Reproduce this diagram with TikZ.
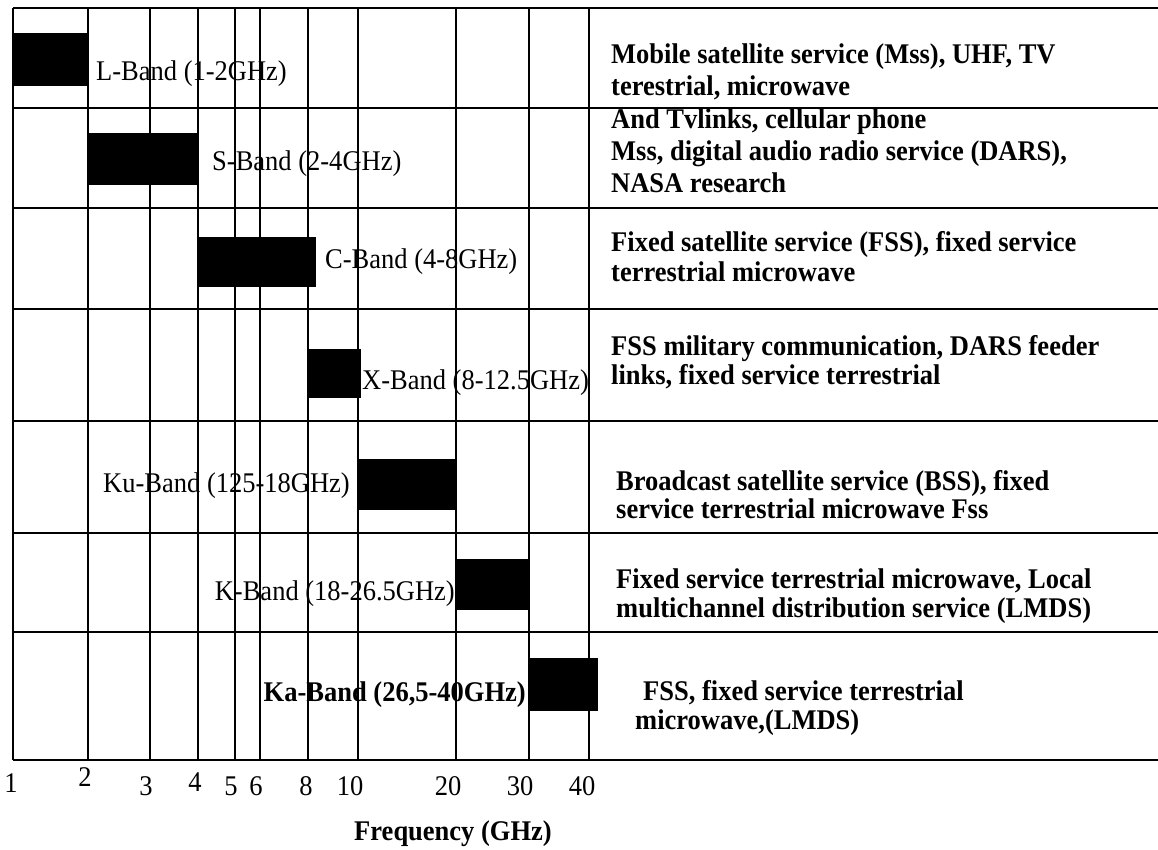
\documentclass[tikz,border=0pt]{standalone}
\usepackage{fontspec}
\setmainfont{Liberation Serif}[FakeStretch = 0.93]
\usepackage{xcolor}
\usepackage{tikz}

\tikzset{
  gridline/.style = {line width = 1.8pt},
  bandlabel/.style = {font = \fontsize{28.5}{32}\selectfont, inner sep = 0pt},
  service/.style = {font = \fontsize{28.5}{32}\selectfont\bfseries, anchor = base west, inner sep = 0pt},
  ticklabel/.style = {font = \fontsize{28.5}{32}\selectfont, anchor = base, inner sep = 0pt}
}

\begin{document}
\begin{tikzpicture}[x = 1pt, y = -1pt]
    \useasboundingbox (0, 0) rectangle (1158, 849);
    % grid
    \foreach \y in {8, 108, 208, 309, 421, 533, 632, 760}
      \draw[gridline] (13, \y) -- (1158, \y);
    \foreach \x in {13, 88, 150, 198, 235, 260, 308, 358, 456, 529, 589}
      \draw[gridline] (\x, 8) -- (\x, 760);

    % bands
    {
      \filldraw[fill = black] (13, 33) rectangle (88, 85);
      \node[bandlabel, anchor = base west] (Llabel) at (96, 80) {L-Band (1-2GHz)};
    }
    {
      \filldraw[fill = black] (88, 133) rectangle (198, 184);
      \node[bandlabel, anchor = base west] (Slabel) at (212, 170) {S-Band (2-4GHz)};
    }
    {
      \filldraw[fill = black] (198, 237) rectangle (315, 286);
      \node[bandlabel, anchor = base west] (Clabel) at (325, 268) {C-Band (4-8GHz)};
    }
    {
      \filldraw[fill = black] (308, 349) rectangle (360, 397);
      \node[bandlabel, anchor = base west] (Xlabel) at (362, 389) {X-Band (8-12.5GHz)};
    }
    {
      \filldraw[fill = black] (358, 459) rectangle (456, 509);
      \node[bandlabel, anchor = base east] (Kulabel) at (350, 492) {Ku-Band (125-18GHz)};
    }
    {
      \filldraw[fill = black] (456, 559) rectangle (529, 609);
      \node[bandlabel, anchor = base east] (Klabel) at (455, 600) {K-Band (18-26.5GHz)};
    }
    {
      \filldraw[fill = black] (529, 658) rectangle (597, 710);
      \node[bandlabel, font = \fontsize{28.5}{32}\selectfont\bfseries, anchor = base east] (Kalabel) at (526, 701) {Ka-Band (26,5-40GHz)};
    }

    % services
    \node[service] (Lserv1) at (611, 63) {Mobile satellite service (Mss), UHF, TV};
    \node[service] (Lserv2) at (611, 95) {terestrial, microwave};
    \node[service] (Sserv1) at (611, 128) {And Tvlinks, cellular phone};
    \node[service] (Sserv2) at (611, 160) {Mss, digital audio radio service (DARS),};
    \node[service] (Sserv3) at (611, 192) {NASA research};
    \node[service] (Cserv1) at (611, 251) {Fixed satellite service (FSS), fixed service};
    \node[service] (Cserv2) at (611, 281) {terrestrial microwave};
    \node[service] (Xserv1) at (611, 355) {FSS military communication, DARS feeder};
    \node[service] (Xserv2) at (611, 384) {links, fixed service terrestrial};
    \node[service] (Kuserv1) at (616, 490) {Broadcast satellite service (BSS), fixed};
    \node[service] (Kuserv2) at (616, 518) {service terrestrial microwave Fss};
    \node[service] (Kserv1) at (616, 588) {Fixed service terrestrial microwave, Local};
    \node[service] (Kserv2) at (616, 617) {multichannel distribution service (LMDS)};
    \node[service] (Kaserv1) at (643, 700) {FSS, fixed service terrestrial};
    \node[service] (Kaserv2) at (635, 729) {microwave,(LMDS)};

    % axis
    \node[ticklabel] (t1) at (11, 792) {1};
    \node[ticklabel] (t2) at (85, 786) {2};
    \node[ticklabel] (t3) at (146, 795) {3};
    \node[ticklabel] (t4) at (195, 791) {4};
    \node[ticklabel] (t5) at (231, 795) {5};
    \node[ticklabel] (t6) at (256, 795) {6};
    \node[ticklabel] (t8) at (306, 795) {8};
    \node[ticklabel] (t10) at (350, 795) {10};
    \node[ticklabel] (t20) at (448, 795) {20};
    \node[ticklabel] (t30) at (520, 795) {30};
    \node[ticklabel] (t40) at (582, 795) {40};
    \node[service, anchor = base] (freq) at (453, 840) {Frequency (GHz)};
\end{tikzpicture}
\end{document}
